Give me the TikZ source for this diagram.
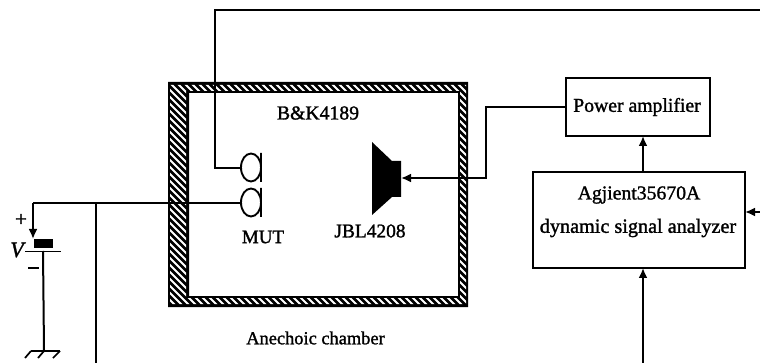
\documentclass[tikz,border=0pt]{standalone}
\usepackage{fontspec}
\setmainfont{Liberation Serif}[FakeBold=1.4,Ligatures=TeX]
\usetikzlibrary{arrows.meta}
\tikzset{
  wire/.style={line width=2pt,black},
  arrowwire/.style={wire,-{Latex[length=10pt,width=9pt]}},
  blockbox/.style={draw,line width=2.1pt,inner sep=0pt,anchor=north west},
  lab/.style={inner sep=0pt,font=\fontsize{19.7pt}{22pt}\selectfont},
  mic/.style={line width=1.9pt}
}
\begin{document}
\begin{tikzpicture}[x=1pt,y=-1pt]
\useasboundingbox (0,0) rectangle (760,363);
% chamber wall
\fill[black,even odd rule] (168,82) rectangle (468,307) (189,93) rectangle (458,296);
\begin{scope}[even odd rule]
\clip (170,85) rectangle (466,304) (186,91) rectangle (460,298);
\foreach \k in {-300,-293,...,480}
  \draw[white,line width=2pt] ({\k+170},84) -- ({\k+170+225},309);
\end{scope}
% blocks
\node[blockbox,minimum width=144pt,minimum height=58pt] (amp) at (565,77) {};
\node[lab] at (637,107) {Power amplifier};
\node[blockbox,minimum width=212pt,minimum height=96pt] (ana) at (532,171) {};
\node[lab] at (639,195) {Agjient35670A};
\node[lab,font=\fontsize{20.2pt}{22pt}\selectfont] at (638,228) {dynamic signal analyzer};
% labels
\node[lab] (bk) at (318,113) {B\&K4189};
\node[lab,font=\fontsize{19pt}{20pt}\selectfont] (mut) at (263,237) {MUT};
\node[lab,font=\fontsize{19.4pt}{22pt}\selectfont] (jbl) at (370,231) {JBL4208};
\node[lab,font=\fontsize{18.4pt}{20pt}\selectfont] (ane) at (315.5,338) {Anechoic chamber};
% microphones
\coordinate (m1) at (242,168);
\coordinate (m2) at (242,203);
\draw[mic] (261,153) -- (261,182) (251,167.5) ellipse [x radius=10,y radius=14];
\draw[mic] (261,188) -- (261,217) (251,202.5) ellipse [x radius=10,y radius=14];
% loudspeaker
\fill (372,142) -- (392,161) -- (401,161) -- (401,197) -- (392,197) -- (372,215) -- cycle;
\coordinate (spk) at (401,178);
% battery
\coordinate (batt) at (34,239);
\fill (34,239) rectangle (53,248);
\draw[line width=1.9pt] (25,251.5) -- (61,251.5);
\coordinate (gnd) at (44,350);
\draw[wire] (43,251) -- (gnd);
\draw[line width=1.9pt] (31,351) -- (60,351);
\draw[line width=1.7pt] (31,351) -- (25,358) (44,351) -- (38,358) (60,351) -- (53,358);
\node[lab,font=\fontsize{21pt}{22pt}\selectfont] (plus) at (21,220) {+};
\node[lab,font=\fontsize{22pt}{22pt}\itshape] (vv) at (17,250) {V};
\fill (28,267) rectangle (39,269.5);
% connectors
\coordinate (topr) at (760,10);
\coordinate (rightin) at (760,212);
\coordinate (botin) at (643,363);
\coordinate (bus) at (96,363);
\draw[wire] (m1) -| (215,10) -- (topr);
\draw[wire] (m2) -- (33,203);
\draw[arrowwire] (33,203) -- (33,239);
\draw[wire] (96,203) -- (bus);
\draw[arrowwire] (amp.west) -- ++(-79,0) |- (spk);
\draw[arrowwire] (643,171) -- (643,136);
\draw[arrowwire] (botin) -- (643,268);
\draw[arrowwire] (rightin) -- (745,212);
\end{tikzpicture}
\end{document}
